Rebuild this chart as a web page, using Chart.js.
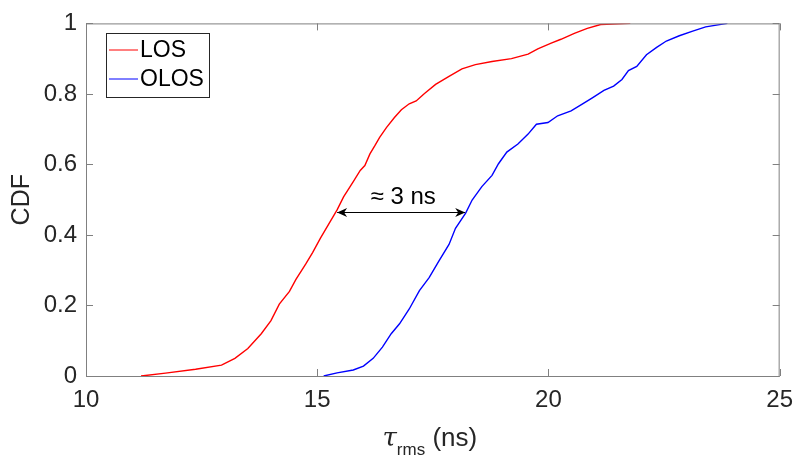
<!DOCTYPE html>
<html>
<head>
<meta charset="utf-8">
<script src="https://cdn.jsdelivr.net/npm/chart.js@4/dist/chart.umd.min.js"></script>
<style>
  html, body { margin: 0; padding: 0; background: #fff; }
  #wrap { width: 803px; height: 455px; }
</style>
</head>
<body>
<div id="wrap"><canvas id="cdf"></canvas></div>
<script>
// CDF of rms delay spread
const losX  = [11.19, 11.72, 12.37, 12.93, 13.22, 13.50, 13.79, 14.00, 14.18, 14.40, 14.54, 14.75, 14.90, 15.07, 15.28, 15.43, 15.57, 15.78, 15.93, 16.03, 16.14, 16.25, 16.35, 16.50, 16.67, 16.82, 16.99, 17.14, 17.32, 17.56, 17.85, 18.13, 18.42, 18.78, 19.20, 19.56, 19.77, 20.06, 20.27, 20.56, 20.84, 21.13, 21.77];
const losY  = [0, 0.008, 0.019, 0.031, 0.05, 0.078, 0.12, 0.157, 0.204, 0.24, 0.274, 0.317, 0.35, 0.391, 0.438, 0.471, 0.508, 0.551, 0.583, 0.597, 0.63, 0.654, 0.677, 0.705, 0.733, 0.755, 0.772, 0.78, 0.801, 0.827, 0.85, 0.871, 0.883, 0.892, 0.90, 0.913, 0.928, 0.944, 0.955, 0.972, 0.986, 0.997, 1.0];
const olosX = [15.14, 15.43, 15.78, 16.00, 16.21, 16.41, 16.60, 16.78, 16.99, 17.21, 17.42, 17.63, 17.85, 17.99, 18.21, 18.35, 18.56, 18.78, 18.92, 19.10, 19.34, 19.56, 19.74, 19.99, 20.20, 20.49, 20.73, 20.95, 21.20, 21.41, 21.59, 21.73, 21.91, 22.12, 22.34, 22.55, 22.83, 23.12, 23.40, 23.87];
const olosY = [0, 0.009, 0.017, 0.028, 0.05, 0.082, 0.12, 0.148, 0.19, 0.242, 0.279, 0.326, 0.373, 0.419, 0.462, 0.499, 0.537, 0.569, 0.602, 0.635, 0.658, 0.686, 0.714, 0.719, 0.738, 0.752, 0.771, 0.789, 0.81, 0.822, 0.841, 0.866, 0.878, 0.911, 0.932, 0.95, 0.965, 0.978, 0.99, 1.0];

const xTicks = [10, 15, 20, 25];
const yTicks = [0, 0.2, 0.4, 0.6, 0.8, 1];

// annotation: the gap between the two curves
const gapFrom = 15.43, gapTo = 18.2, gapY = 0.466;
const gapText = '\u2248 3 ns';

const FONT = '"Liberation Sans", Arial, sans-serif';
const TXT = '#262626';
const AXIS = '#808080';

function pts(xs, ys) {
    return xs.map((x, i) => ({x: x, y: ys[i]}));
}

// box, inward ticks, legend, arrow and x label
const decor = {
    id: 'decor',
    afterDatasetsDraw(chart) {
        const ctx = chart.ctx;
        const a = chart.chartArea;
        const xs = chart.scales.x, ys = chart.scales.y;
        ctx.save();

        // axes box
        ctx.strokeStyle = AXIS;
        ctx.lineWidth = 1;
        ctx.strokeRect(a.left + 0.5, a.top + 0.5, a.right - a.left - 1, a.bottom - a.top);

        // inward ticks on all sides
        const tl = 7;
        ctx.beginPath();
        xTicks.forEach(v => {
            const px = Math.round(xs.getPixelForValue(v)) + 0.5;
            ctx.moveTo(px, a.bottom); ctx.lineTo(px, a.bottom - tl);
            ctx.moveTo(px, a.top); ctx.lineTo(px, a.top + tl);
        });
        yTicks.forEach(v => {
            const py = Math.round(ys.getPixelForValue(v)) + 0.5;
            ctx.moveTo(a.left, py); ctx.lineTo(a.left + tl, py);
            ctx.moveTo(a.right, py); ctx.lineTo(a.right - tl, py);
        });
        ctx.stroke();

        // legend
        const lx = 106, ly = 33, lw = 103, lh = 64;
        ctx.fillStyle = '#fff';
        ctx.fillRect(lx, ly, lw, lh);
        ctx.strokeStyle = '#262626';
        ctx.strokeRect(lx + 0.5, ly + 0.5, lw, lh);
        ctx.font = '23px ' + FONT;
        ctx.textBaseline = 'middle';
        chart.data.datasets.forEach((ds, i) => {
            const yy = ly + 17 + i * 29;
            ctx.strokeStyle = ds.borderColor;
            ctx.lineWidth = 1;
            ctx.beginPath();
            ctx.moveTo(lx + 3, yy); ctx.lineTo(lx + 32, yy);
            ctx.stroke();
            ctx.fillStyle = '#000';
            ctx.fillText(ds.label, lx + 34, yy + 1);
        });

        // double arrow
        const x1 = xs.getPixelForValue(gapFrom), x2 = xs.getPixelForValue(gapTo);
        const yA = Math.round(ys.getPixelForValue(gapY)) + 0.5;
        ctx.strokeStyle = '#000';
        ctx.fillStyle = '#000';
        ctx.lineWidth = 1;
        ctx.beginPath();
        ctx.moveTo(x1, yA); ctx.lineTo(x2, yA);
        ctx.stroke();
        function head(tip, dir) {
            ctx.beginPath();
            ctx.moveTo(tip, yA);
            ctx.lineTo(tip + dir * 10, yA - 4.5);
            ctx.lineTo(tip + dir * 7, yA);
            ctx.lineTo(tip + dir * 10, yA + 4.5);
            ctx.closePath();
            ctx.fill();
        }
        head(x1, 1);
        head(x2, -1);
        ctx.font = '24px ' + FONT;
        ctx.textAlign = 'center';
        ctx.textBaseline = 'alphabetic';
        ctx.fillText(gapText, (x1 + x2) / 2 + 2, yA - 9);

        // x axis label: tau_rms (ns)
        ctx.fillStyle = TXT;
        ctx.textAlign = 'left';
        const base = 446;
        const f1 = 'italic 26px "DejaVu Serif", serif';
        const f2 = '17px ' + FONT;
        const f3 = '26px ' + FONT;
        ctx.font = f1; const w1 = ctx.measureText('\u03c4').width;
        ctx.font = f2; const w2 = ctx.measureText('rms').width;
        ctx.font = f3; const w3 = ctx.measureText(' (ns)').width;
        let sx = (a.left + a.right) / 2 - (w1 + w2 + w3) / 2 - 3;
        ctx.font = f1; ctx.fillText('\u03c4', sx, base); sx += w1;
        ctx.font = f2; ctx.fillText('rms', sx, base + 9); sx += w2;
        ctx.font = f3; ctx.fillText(' (ns)', sx, base);

        ctx.restore();
    }
};

new Chart(document.getElementById('cdf'), {
    type: 'scatter',
    data: {
        datasets: [
            {
                label: 'LOS',
                data: pts(losX, losY),
                showLine: true,
                borderColor: '#ff0000',
                borderWidth: 1.4,
                pointRadius: 0,
                tension: 0
            },
            {
                label: 'OLOS',
                data: pts(olosX, olosY),
                showLine: true,
                borderColor: '#0000ff',
                borderWidth: 1.4,
                pointRadius: 0,
                tension: 0
            }
        ]
    },
    options: {
        responsive: true,
        maintainAspectRatio: false,
        animation: false,
        layout: {padding: {top: 20, right: 16, left: 0, bottom: 0}},
        plugins: {
            legend: {display: false},
            tooltip: {enabled: false}
        },
        scales: {
            x: {
                type: 'linear',
                min: 10,
                max: 25,
                afterBuildTicks: s => { s.ticks = xTicks.map(v => ({value: v})); },
                afterFit: s => { s.height = 79; },
                grid: {display: false, drawTicks: false},
                border: {display: false},
                ticks: {color: TXT, font: {family: FONT, size: 24}, padding: 10, maxRotation: 0,
                        callback: v => String(v)}
            },
            y: {
                type: 'linear',
                min: 0,
                max: 1,
                afterBuildTicks: s => { s.ticks = yTicks.map(v => ({value: v})); },
                afterFit: s => { s.width = 86; },
                grid: {display: false, drawTicks: false},
                border: {display: false},
                title: {display: true, text: 'CDF', color: TXT, font: {family: FONT, size: 25}, padding: {top: 7, bottom: 0}},
                ticks: {color: TXT, font: {family: FONT, size: 24}, padding: 9,
                        callback: v => String(v)}
            }
        }
    },
    plugins: [decor]
});
</script>
</body>
</html>
